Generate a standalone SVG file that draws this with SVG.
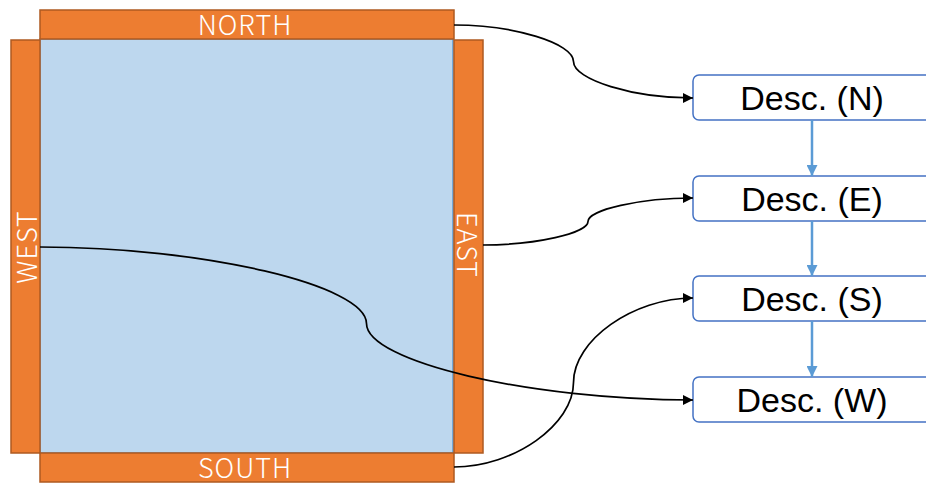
<svg xmlns="http://www.w3.org/2000/svg" width="926" height="484" viewBox="0 0 926 484">
  <style>
    .bar { fill: #ED7D31; stroke: #AE5A21; stroke-width: 1.5; }
    .bar-label { fill: #FFFFFF; font-family: "Noto Sans CJK JP", "Noto Sans", sans-serif; font-weight: 300; font-size: 27px; letter-spacing: 1px; text-anchor: middle; dominant-baseline: central; }
    .desc { fill: #FFFFFF; stroke: #4472C4; stroke-width: 1.5; }
    .desc-label { fill: #000000; font-family: "Liberation Sans", Arial, sans-serif; font-size: 34px; text-anchor: middle; }
    .link { fill: none; stroke: #000000; stroke-width: 1.7; marker-end: url(#arrow-black); }
    .flow { fill: none; stroke: #5B9BD5; stroke-width: 2.5; marker-end: url(#arrow-blue); }
  </style>
  <defs>
    <marker id="arrow-black" viewBox="0 0 10 10" refX="10" refY="5" markerWidth="10" markerHeight="10" markerUnits="userSpaceOnUse" orient="auto">
      <path d="M0,0 L10,5 L0,10 z" fill="#000000"/>
    </marker>
    <marker id="arrow-blue" viewBox="0 0 10 10" refX="10" refY="5" markerWidth="11" markerHeight="11" markerUnits="userSpaceOnUse" orient="auto">
      <path d="M0,0 L10,5 L0,10 z" fill="#5B9BD5"/>
    </marker>
  </defs>

  <!-- square plate with its four edge strips -->
  <g id="plate">
    <rect x="40" y="39" width="413" height="414" fill="#BDD7EE" stroke="#5B9BD5" stroke-width="1.5"/>
  </g>
  <g id="north">
    <rect class="bar" x="40" y="10" width="414" height="29"/>
    <text class="bar-label" x="245" y="23">NORTH</text>
  </g>
  <g id="west">
    <rect class="bar" x="11" y="40" width="29" height="413"/>
    <text class="bar-label" transform="translate(25,247) rotate(-90)">WEST</text>
  </g>
  <g id="east">
    <rect class="bar" x="454" y="40" width="29" height="413"/>
    <text class="bar-label" transform="translate(468,245) rotate(90)">EAST</text>
  </g>
  <g id="south">
    <rect class="bar" x="40" y="453" width="414" height="29"/>
    <text class="bar-label" x="245" y="466">SOUTH</text>
  </g>

  <!-- description boxes -->
  <g id="desc-n">
    <rect class="desc" x="693" y="75" width="240" height="45" rx="6"/>
    <text class="desc-label" x="812" y="110">Desc. (N)</text>
  </g>
  <g id="desc-e">
    <rect class="desc" x="693" y="176" width="240" height="45" rx="6"/>
    <text class="desc-label" x="812" y="211">Desc. (E)</text>
  </g>
  <g id="desc-s">
    <rect class="desc" x="693" y="276" width="240" height="45" rx="6"/>
    <text class="desc-label" x="812" y="311">Desc. (S)</text>
  </g>
  <g id="desc-w">
    <rect class="desc" x="693" y="377" width="240" height="45" rx="6"/>
    <text class="desc-label" x="812" y="412">Desc. (W)</text>
  </g>

  <!-- connectors -->
  <g id="connectors">
    <path class="link" d="M454,25 C513.75,25 573.5,43.25 573.5,61.5 C573.5,79.75 633.25,98 693,98"/>
    <path class="link" d="M483,245 C535.5,245 588,233.25 588,221.5 C588,209.75 640.5,198 693,198"/>
    <path class="link" d="M40,247 C203.25,247 366.5,285.25 366.5,323.5 C366.5,361.75 529.75,400 693,400"/>
    <path class="link" d="M454,467 C513.75,467 573.5,424.75 573.5,382.5 C573.5,340.25 633.25,298 693,298"/>
    <path class="flow" d="M812,120 L812,176"/>
    <path class="flow" d="M812,221 L812,276"/>
    <path class="flow" d="M812,321 L812,377"/>
  </g>
</svg>
